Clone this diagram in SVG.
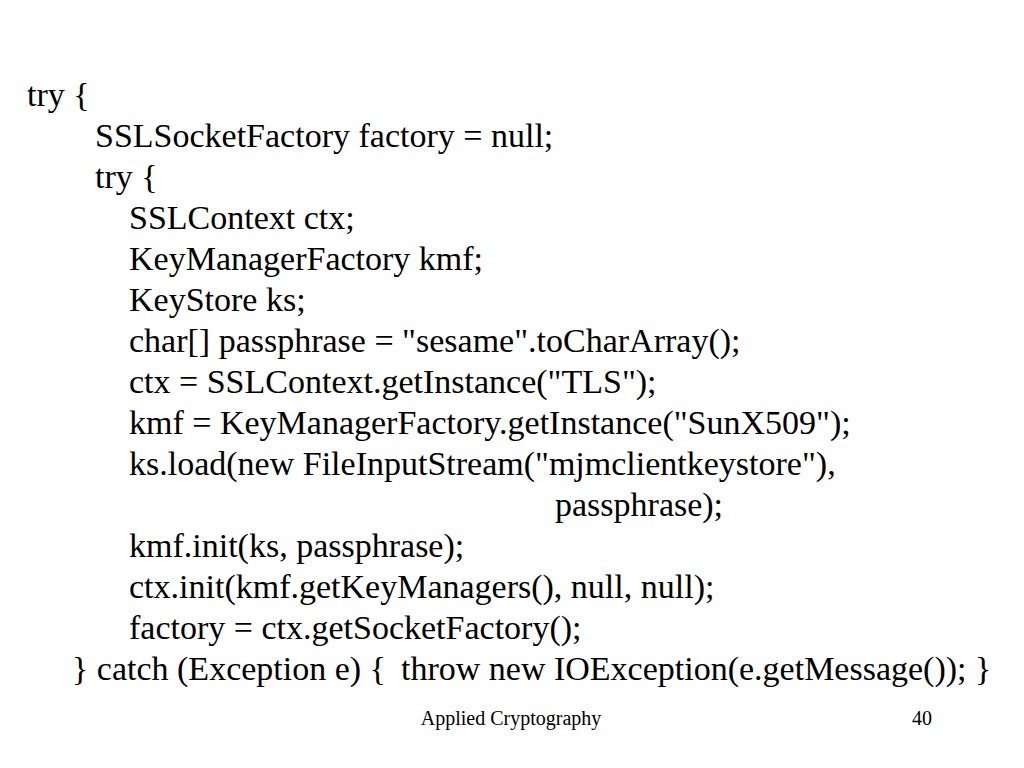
<svg xmlns="http://www.w3.org/2000/svg" width="1024" height="768" viewBox="0 0 1024 768">
<style>
.c{font-family:"Liberation Serif","Times New Roman",serif;font-size:34px;fill:#000}
.f{font-family:"Liberation Serif","Times New Roman",serif;font-size:20px;fill:#000}
</style>
<rect width="1024" height="768" fill="#fff"/>
<g id="code">
<text class="c" x="27" y="106">try {</text>
<text class="c" x="95" y="147">SSLSocketFactory factory = null;</text>
<text class="c" x="95" y="188">try {</text>
<text class="c" x="129" y="229">SSLContext ctx;</text>
<text class="c" x="129" y="270">KeyManagerFactory kmf;</text>
<text class="c" x="129" y="311">KeyStore ks;</text>
<text class="c" x="129" y="352">char[] passphrase = "sesame".toCharArray();</text>
<text class="c" x="129" y="393">ctx = SSLContext.getInstance("TLS");</text>
<text class="c" x="129" y="434">kmf = KeyManagerFactory.getInstance("SunX509");</text>
<text class="c" x="129" y="475">ks.load(new FileInputStream("mjmclientkeystore"),</text>
<text class="c" x="555" y="516">passphrase);</text>
<text class="c" x="129" y="557">kmf.init(ks, passphrase);</text>
<text class="c" x="129" y="598">ctx.init(kmf.getKeyManagers(), null, null);</text>
<text class="c" x="129" y="639">factory = ctx.getSocketFactory();</text>
<text class="c" x="72" y="680">} catch (Exception e) {</text>
<text class="c" x="401" y="680">throw new IOException(e.getMessage()); }</text>
</g>
<g id="footer">
<text class="f" x="511" y="725" text-anchor="middle">Applied Cryptography</text>
<text class="f" x="932" y="725" text-anchor="end">40</text>
</g>
</svg>
